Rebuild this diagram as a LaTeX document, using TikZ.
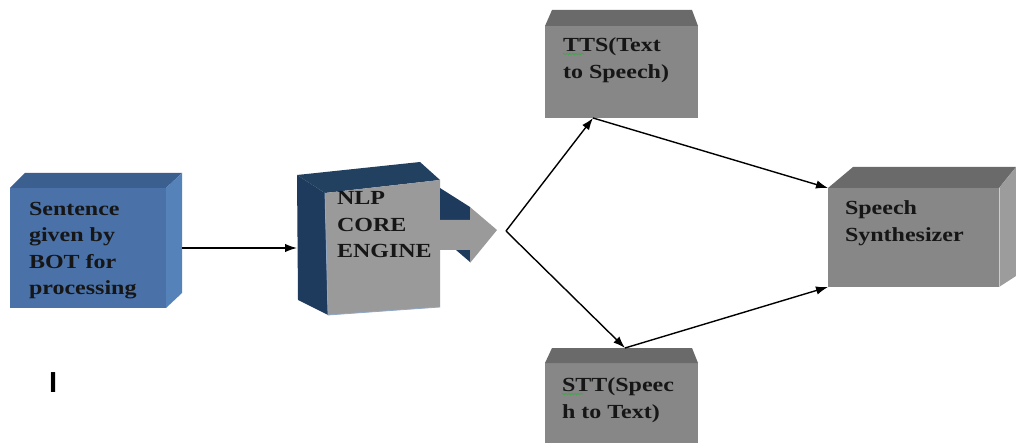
\documentclass[tikz,border=0pt]{standalone}
\usepackage{fontspec}
\usetikzlibrary{arrows.meta,decorations.pathmorphing}
\newfontfamily\boxfont[FakeStretch=1.2]{Liberation Serif}
\newfontfamily\barfont{Liberation Sans}
\definecolor{blueF}{HTML}{4A72A8}
\definecolor{blueT}{HTML}{3B5F8F}
\definecolor{blueR}{HTML}{5682BA}
\definecolor{grayF}{HTML}{878787}
\definecolor{grayT}{HTML}{6A6A6A}
\definecolor{grayR}{HTML}{9C9C9C}
\definecolor{nlpF}{HTML}{9A9A9A}
\definecolor{navy}{HTML}{1E3A5C}
\definecolor{navyT}{HTML}{22405F}
\definecolor{edgeL}{HTML}{8FA8C8}
\definecolor{txt}{HTML}{161616}
\definecolor{squig}{HTML}{3FA84A}
\tikzset{
  face/.style={draw=none, inner sep=0pt, outer sep=0pt, anchor=north west},
  lbl/.style={inner sep=0pt, outer sep=0pt, anchor=north west, align=left, text=txt,
    font={\boxfont\bfseries\fontsize{20pt}{26.5pt}\selectfont}},
  conn/.style={draw=black, line width=1.4pt, -{Latex[length=12pt,width=8.5pt]}},
  spell/.style={draw=squig, line width=0.7pt, decorate,
    decoration={snake, segment length=3pt, amplitude=0.8pt}}
}
\begin{document}
\begin{tikzpicture}[x=1pt,y=-1pt]
\clip (0,0) rectangle (1016,443);
\fill[white] (0,0) rectangle (1016,443);

% Sentence box
\node[face, fill=blueF, minimum width=156pt, minimum height=120pt] (sent) at (10,188) {};
\fill[blueT] (10,188) -- (25,173) -- (182,173) -- (166,188) -- cycle;
\fill[blueR] (166,188) -- (182,173) -- (182,293) -- (166,308) -- cycle;
\node[lbl] (sentTxt) at (29,202) {Sentence\\given by\\BOT for\\processing};

% NLP box
\fill[navy] (297,175) -- (325,193) -- (328,315) -- (298,300) -- cycle;
\fill[navyT] (297,175) -- (420,162) -- (440,180) -- (325,193) -- cycle;
\fill[nlpF] (325,193) -- (440,180) -- (440,307) -- (328,315) -- cycle;
\draw[edgeL, line width=0.8pt] (325,193) -- (328,315) -- (440,307);
% arrow out of NLP
\fill[navy] (440,188) -- (470,207) -- (470,220) -- (440,220) -- cycle;
\fill[navy] (456,250) -- (470,250) -- (470,262) -- cycle;
\fill[nlpF] (440,220) -- (470,220) -- (470,207) -- (497,230) -- (470,263) -- (470,250) -- (440,250) -- cycle;
\node[lbl] (nlpTxt) at (337,191.5) {NLP\\CORE\\ENGINE};
\coordinate (nlpL) at (297,248);

% TTS box
\node[face, fill=grayF, minimum width=153pt, minimum height=92pt] (tts) at (545,26) {};
\fill[grayT] (545,26) -- (552,10) -- (692,10) -- (698,26) -- cycle;
\node[lbl] (ttsTxt) at (563,38) {TTS(Text\\to Speech)};
\draw[spell] (563,54) -- (584,54);

% STT box
\node[face, fill=grayF, minimum width=153pt, minimum height=92pt] (stt) at (545,363) {};
\fill[grayT] (545,363) -- (552,348) -- (692,348) -- (698,363) -- cycle;
\node[lbl] (sttTxt) at (562,378) {STT(Speec\\h to Text)};
\draw[spell] (562,394) -- (583,394);

% Speech synthesizer box
\node[face, fill=grayF, minimum width=171pt, minimum height=99pt] (synth) at (828,188) {};
\fill[grayT] (828,188) -- (853,167) -- (1016,167) -- (999,188) -- cycle;
\fill[grayR] (999,188) -- (1016,167) -- (1016,276) -- (999,287) -- cycle;
\draw[white!60!gray, line width=1pt] (999,188) -- (999,287);
\node[lbl] (synthTxt) at (845,201) {Speech\\Synthesizer};

% stray glyph
\node[inner sep=0pt, anchor=north west, font={\barfont\bfseries\fontsize{29pt}{30pt}\selectfont}, text=black] (bar) at (49,372) {I};

% connectors
\coordinate (split) at (506,231);
\draw[conn] ([xshift=16pt]sent.east) -- (nlpL);
\draw[conn] (split) -- ([xshift=-28.5pt]tts.south);
\draw[conn] (split) -- ([xshift=3.5pt,yshift=15pt]stt.north);
\draw[conn] ([xshift=-28.5pt]tts.south) -- (synth.north west);
\draw[conn] ([xshift=3.5pt,yshift=15pt]stt.north) -- (synth.south west);
\end{tikzpicture}
\end{document}
